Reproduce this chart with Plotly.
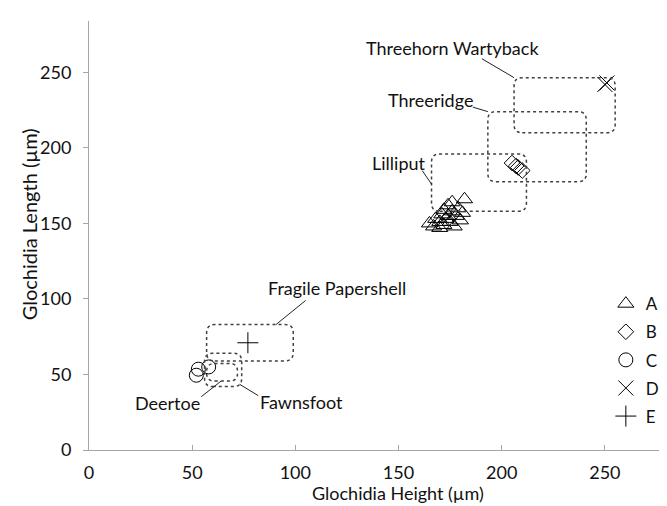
import plotly.graph_objects as go

# ---- data ----
A_x = [165, 167, 168, 170, 170, 171, 172, 172, 173, 174, 174, 175, 176, 176, 177, 178, 179, 180, 181, 182]
A_y = [150, 148, 153, 147, 151, 156, 149, 159, 153, 162, 155, 151, 164, 158, 148, 155, 160, 152, 157, 166]
B_x = [205, 207, 208, 210]
B_y = [190, 188, 187, 185]
C_x = [52, 53, 58]
C_y = [49.5, 53.5, 55]
D_x = [250, 251]
D_y = [242, 243]
E_x = [77]
E_y = [71]

# species range boxes: name, x0, x1, y0, y1
box_names = ["Threehorn Wartyback", "Threeridge", "Lilliput", "Fragile Papershell", "Fawnsfoot", "Deertoe"]
box_x0 = [206, 193.3, 166, 57, 56, 57]
box_x1 = [255, 241, 212, 99, 74, 72]
box_y0 = [210, 177.6, 158, 59, 42, 45.6]
box_y1 = [246.5, 224, 196, 83, 64, 57.3]

# label positions (data coords) and leader lines
label_x = [176, 165.5, 150, 120, 103, 38]
label_y = [266, 232, 190, 107, 32, 31]
lead_x0 = [190.4, 186, 161.5, 105, 82, 54.4]
lead_y0 = [259, 227, 185, 99, 36, 35.3]
lead_x1 = [206, 193.3, 166, 90.6, 73, 64]
lead_y1 = [246.5, 224, 176, 83, 43.5, 45.6]

x_ticks = [0, 50, 100, 150, 200, 250]
y_ticks = [0, 50, 100, 150, 200, 250]
x_title = "Glochidia Height (µm)"
y_title = "Glochidia Length (µm)"

FONT = "Lato"
fig = go.Figure()

series = [("A", A_x, A_y, "triangle-up-open", 14),
          ("B", B_x, B_y, "diamond-open", 12),
          ("C", C_x, C_y, "circle-open", 14),
          ("D", D_x, D_y, "x-thin-open", 15),
          ("E", E_x, E_y, "cross-thin-open", 15)]
for name, xs, ys, sym, sz in series:
    fig.add_trace(go.Scatter(x=xs, y=ys, mode="markers", name=name, legendgroup=name,
                             marker=dict(symbol=sym, size=sz, color="black",
                                         line=dict(color="black", width=1))))

def rrect(x0, x1, y0, y1, rx=4.0, ry=5.5):
    return (f"M {x0+rx},{y0} L {x1-rx},{y0} Q {x1},{y0} {x1},{y0+ry} "
            f"L {x1},{y1-ry} Q {x1},{y1} {x1-rx},{y1} L {x0+rx},{y1} "
            f"Q {x0},{y1} {x0},{y1-ry} L {x0},{y0+ry} Q {x0},{y0} {x0+rx},{y0} Z")

for i in range(len(box_names)):
    fig.add_shape(type="path", xref="x", yref="y",
                  path=rrect(box_x0[i], box_x1[i], box_y0[i], box_y1[i]),
                  line=dict(color="#404040", width=1.5, dash="dot"))
    fig.add_shape(type="line", xref="x", yref="y",
                  x0=lead_x0[i], y0=lead_y0[i], x1=lead_x1[i], y1=lead_y1[i],
                  line=dict(color="#222222", width=1))
    fig.add_annotation(x=label_x[i], y=label_y[i], xref="x", yref="y",
                       text=box_names[i], showarrow=False,
                       font=dict(family=FONT, size=18, color="#111111"))

# axis titles
fig.add_annotation(text=x_title, xref="paper", yref="paper", x=0.527, y=0,
                   xanchor="center", yanchor="middle", yshift=-43, showarrow=False,
                   borderpad=0,
                   font=dict(family=FONT, size=18, color="#111111"))
fig.add_annotation(text=y_title, xref="paper", yref="paper", x=0, y=0.526,
                   xanchor="center", yanchor="middle", xshift=-60, textangle=-90,
                   showarrow=False, font=dict(family=FONT, size=20, color="#111111"))

fig.update_layout(
    width=667, height=506,
    margin=dict(l=81, r=0, t=13, b=64),
    paper_bgcolor="white", plot_bgcolor="white",
    font=dict(family=FONT, size=18, color="#111111"),
    showlegend=True,
    legend=dict(x=0.882, y=0.382, xanchor="left", yanchor="top",
                bgcolor="rgba(0,0,0,0)", font=dict(size=17), itemwidth=30,
                tracegroupgap=3),
    xaxis=dict(range=[0, 284], tickvals=x_ticks, showgrid=False, zeroline=False,
               showline=True, linecolor="#a6a6a6", linewidth=1,
               ticks="inside", ticklen=5, tickcolor="#a6a6a6",
               ticklabelstandoff=6),
    yaxis=dict(range=[0, 284], tickvals=y_ticks, showgrid=False, zeroline=False,
               showline=True, linecolor="#a6a6a6", linewidth=1,
               ticks="outside", ticklen=5, tickcolor="#a6a6a6",
               ticklabelstandoff=8),
)

fig.write_html("out.html")
